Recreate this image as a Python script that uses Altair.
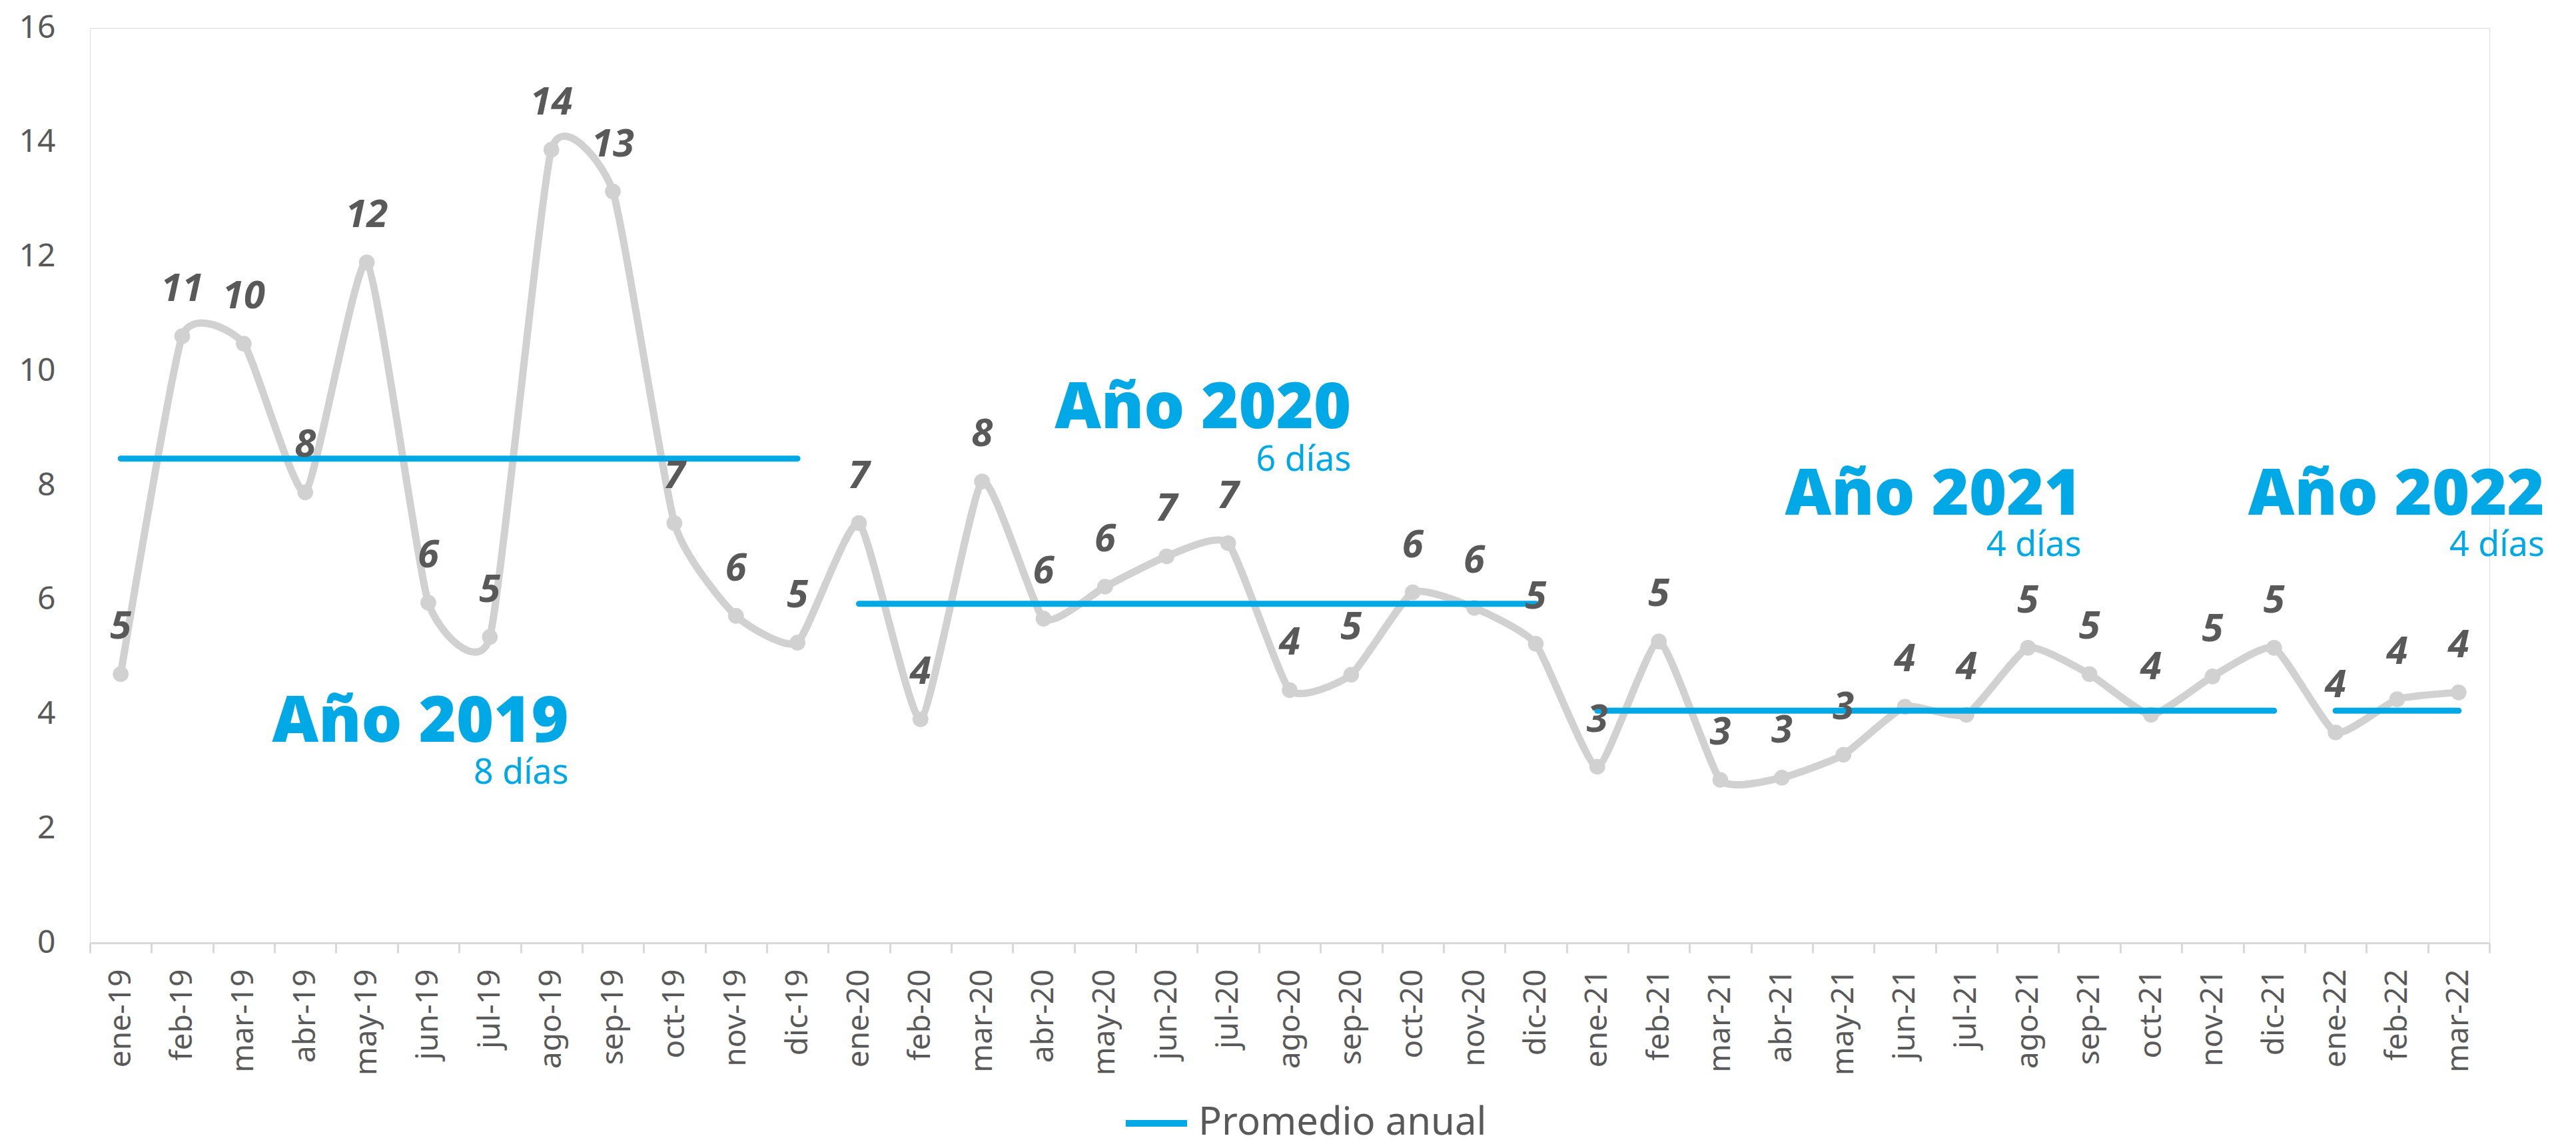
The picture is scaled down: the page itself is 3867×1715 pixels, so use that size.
import altair as alt
import pandas as pd

months = ["ene-19", "feb-19", "mar-19", "abr-19", "may-19", "jun-19", "jul-19", "ago-19",
          "sep-19", "oct-19", "nov-19", "dic-19",
          "ene-20", "feb-20", "mar-20", "abr-20", "may-20", "jun-20", "jul-20", "ago-20",
          "sep-20", "oct-20", "nov-20", "dic-20",
          "ene-21", "feb-21", "mar-21", "abr-21", "may-21", "jun-21", "jul-21", "ago-21",
          "sep-21", "oct-21", "nov-21", "dic-21",
          "ene-22", "feb-22", "mar-22"]
values = [4.70, 10.61, 10.48, 7.88, 11.90, 5.95, 5.35, 13.87, 13.14, 7.34, 5.72, 5.25,
          7.34, 3.91, 8.07, 5.67, 6.23, 6.76, 6.99, 4.42, 4.69, 6.13, 5.86, 5.23,
          3.08, 5.27, 2.85, 2.89, 3.29, 4.13, 3.99, 5.16, 4.70, 3.99, 4.66, 5.16,
          3.68, 4.26, 4.38]
years = ["2019"] * 12 + ["2020"] * 12 + ["2021"] * 12 + ["2022"] * 3
year_names = ["2019", "2020", "2021", "2022"]
year_avg = [8.47, 5.93, 4.06, 4.06]

# annotations: anchor month, title baseline value, subtitle baseline value, x offset (px)
ann_title = ["Año 2019", "Año 2020", "Año 2021", "Año 2022"]
ann_sub = ["8 días", "6 días", "4 días", "4 días"]
ann_month = ["ago-19", "sep-20", "sep-21", "mar-22"]
ann_title_y = [3.52, 9.00, 7.49, 7.49]
ann_sub_y = [2.78, 8.26, 6.77, 6.77]
ann_dx = [26, 0, -12, 129]

BLUE = "#00A9E6"
GRAY = "#D2D1D1"
TXT = "#595959"
FONT = "Noto Sans"

df = pd.DataFrame({"mes": months, "v": values, "anio": years})
avg_map = dict(zip(year_names, year_avg))
df["prom"] = [avg_map[y] for y in years]
df["serie"] = "Promedio anual"

xenc = alt.X("mes:N", sort=months,
             scale=alt.Scale(type="band", paddingInner=0, paddingOuter=0),
             axis=alt.Axis(title=None, labelAngle=-90, labelFontSize=46, labelColor=TXT,
                           labelFont=FONT, tickBand="extent", tickSize=15,
                           tickColor="#D9D9D9", tickWidth=3, domainColor="#D9D9D9",
                           domainWidth=3, labelPadding=24))
yscale = alt.Scale(domain=[0, 16], nice=False)
yaxis = alt.Axis(title=None, values=[0, 2, 4, 6, 8, 10, 12, 14, 16], format="d", grid=False,
                 domain=False, ticks=False, labelFontSize=48, labelColor=TXT,
                 labelFont=FONT, labelPadding=52)

base = alt.Chart(df)

line = base.mark_line(interpolate="cardinal", tension=0.5, color=GRAY,
                      strokeWidth=11).encode(
    x=xenc, y=alt.Y("v:Q", scale=yscale, axis=yaxis))
pts = base.mark_circle(size=560, color=GRAY, opacity=1).encode(
    x=alt.X("mes:N", sort=months), y=alt.Y("v:Q"))
avg = base.mark_line(strokeWidth=9, strokeCap="round").encode(
    x=alt.X("mes:N", sort=months),
    y=alt.Y("prom:Q"),
    detail="anio:N",
    color=alt.Color("serie:N",
                    scale=alt.Scale(domain=["Promedio anual"], range=[BLUE]),
                    legend=alt.Legend(title=None, orient="none", legendX=1550, legendY=1594,
                                      symbolType="stroke", symbolSize=8464,
                                      symbolStrokeWidth=10, labelFontSize=58,
                                      labelColor=TXT, labelFont=FONT, padding=0,
                                      labelOffset=12, labelLimit=0)))
labels = base.mark_text(dy=-70, fontSize=58, fontWeight="bold", fontStyle="italic",
                        color=TXT, font=FONT).encode(
    x=alt.X("mes:N", sort=months), y=alt.Y("v:Q"),
    text=alt.Text("v:Q", format=".0f"))

layers = [line, pts, avg, labels]
for i in range(len(ann_title)):
    adf = pd.DataFrame({"mes": [ann_month[i]], "ty": [ann_title_y[i]],
                        "sy": [ann_sub_y[i]], "t": [ann_title[i]], "s": [ann_sub[i]]})
    a = alt.Chart(adf)
    layers.append(a.mark_text(align="right", baseline="alphabetic", dx=ann_dx[i],
                              fontSize=96, fontWeight=800, font="Open Sans",
                              color=BLUE).encode(
        x=alt.X("mes:N", sort=months), y=alt.Y("ty:Q"), text="t:N"))
    layers.append(a.mark_text(align="right", baseline="alphabetic", dx=ann_dx[i],
                              fontSize=52, font=FONT, color=BLUE).encode(
        x=alt.X("mes:N", sort=months), y=alt.Y("sy:Q"), text="s:N"))

chart = alt.layer(*layers).properties(
    width=3602, height=1374,
    autosize=alt.AutoSizeParams(type="none"),
    padding={"left": 127, "top": 34, "right": 110, "bottom": 298},
).configure_view(stroke=None).configure(background="white")

chart.save("out.html", embed_options={"renderer": "svg", "actions": False})
